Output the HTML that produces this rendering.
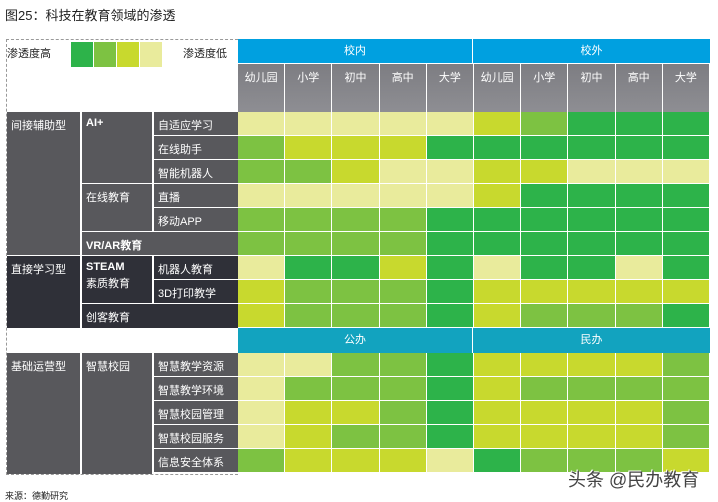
<!DOCTYPE html>
<html><head><meta charset="utf-8">
<style>
body{margin:0;width:718px;height:502px;background:#fff;position:relative;overflow:hidden;font-family:"Liberation Sans","Noto Sans CJK SC",sans-serif;}
.a{position:absolute;box-sizing:border-box;}
.lbl{color:#fff;font-size:11px;padding:5px 0 0 4px;}
.hd{color:#fff;font-size:11px;text-align:center;}
</style></head><body>
<div class="a" style="left:5px;top:5px;font-size:13px;color:#222;">图25：科技在教育领域的渗透</div>
<div class="a" style="left:6px;top:39px;width:232px;height:436px;border:1px dashed #999;border-right:none;"></div>
<div class="a" style="left:7px;top:45px;font-size:11px;color:#222;">渗透度高</div>
<div class="a" style="left:183px;top:45px;font-size:11px;color:#222;">渗透度低</div>
<div class="a" style="left:71px;top:42px;width:22px;height:25px;background:#2db34a"></div>
<div class="a" style="left:94px;top:42px;width:22px;height:25px;background:#7dc242"></div>
<div class="a" style="left:117px;top:42px;width:22px;height:25px;background:#c8d92e"></div>
<div class="a" style="left:140px;top:42px;width:22px;height:25px;background:#e9eb9c"></div>

<div class="a hd" style="left:238px;top:39px;width:235px;height:24px;background:#00a0e0;line-height:24px;border-right:1px solid #fff;">校内</div>
<div class="a hd" style="left:473px;top:39px;width:237px;height:24px;background:#00a0e0;line-height:24px;">校外</div>
<div class="a hd" style="left:238px;top:328px;width:235px;height:25px;background:#12a3bf;line-height:25px;border-right:1px solid #fff;">公办</div>
<div class="a hd" style="left:473px;top:328px;width:237px;height:25px;background:#12a3bf;line-height:25px;">民办</div>

<!-- left category blocks -->
<div class="a lbl" style="left:7px;top:112px;width:73px;height:144px;background:#58585c;border-bottom:1px solid #fff;">间接辅助型</div>
<div class="a lbl" style="left:81px;top:112px;width:71px;height:72px;background:#58585c;border-bottom:1px solid #fff;font-weight:bold;border-left:1px solid #fff;">AI+</div>
<div class="a lbl" style="left:81px;top:184px;width:71px;height:48px;background:#58585c;border-bottom:1px solid #fff;border-left:1px solid #fff;">在线教育</div>
<div class="a lbl" style="left:81px;top:232px;width:157px;height:24px;background:#58585c;border-bottom:1px solid #fff;font-weight:bold;border-left:1px solid #fff;">VR/AR教育</div>
<div class="a lbl" style="left:7px;top:256px;width:73px;height:72px;background:#2f3038;">直接学习型</div>
<div class="a lbl" style="left:81px;top:256px;width:71px;height:48px;background:#2f3038;border-bottom:1px solid #fff;border-left:1px solid #fff;line-height:17px;padding-top:3px;"><b>STEAM</b><br>素质教育</div>
<div class="a lbl" style="left:81px;top:304px;width:157px;height:24px;background:#2f3038;border-left:1px solid #fff;">创客教育</div>
<div class="a lbl" style="left:7px;top:353px;width:73px;height:121px;background:#58585c;">基础运营型</div>
<div class="a lbl" style="left:81px;top:353px;width:71px;height:121px;background:#58585c;border-left:1px solid #fff;">智慧校园</div>

<div id="grid"></div>
<div class="a" style="left:5px;top:489px;font-size:9px;color:#222;">来源：德勤研究</div>
<div class="a" style="left:568px;top:466px;font-size:18px;color:#444;text-shadow:1px 1px 0 #fff,-1px -1px 0 #fff;">头条 @民办教育</div>

<script>
const levels=["", "#e9eb9c","#c8d92e","#7dc242","#2db34a"];
const colLabels=["幼儿园","小学","初中","高中","大学","幼儿园","小学","初中","高中","大学"];
const topRowLabels=["自适应学习","在线助手","智能机器人","直播","移动APP","","机器人教育","3D打印教学",""];
const topValues=[
[1,1,1,1,1,2,3,4,4,4],
[3,2,2,2,4,4,4,4,4,4],
[3,3,2,1,1,2,2,1,1,1],
[1,1,1,1,1,2,4,4,4,4],
[3,3,3,3,4,4,4,4,4,4],
[3,3,3,3,4,4,4,4,4,4],
[1,4,4,2,4,1,4,4,1,4],
[2,3,3,3,4,2,2,2,2,2],
[2,3,3,3,4,2,3,3,3,4]];
const bottomRowLabels=["智慧教学资源","智慧教学环境","智慧校园管理","智慧校园服务","信息安全体系"];
const bottomValues=[
[1,1,3,3,4,2,2,2,2,3],
[1,3,3,3,4,2,3,3,3,3],
[1,2,2,3,4,2,2,2,2,3],
[1,2,3,3,4,2,2,2,2,3],
[3,2,2,2,1,4,3,3,3,2]];
const g=document.getElementById('grid');
const x0=238,cw=47.2,rh=24;
function colX(i){return x0+i*cw;}
function add(style,cls,text){const d=document.createElement('div');d.className='a '+(cls||'');d.style.cssText=style;if(text)d.textContent=text;g.appendChild(d);return d;}
colLabels.forEach((c,i)=>{
 const d=add(`left:${colX(i)}px;top:63px;width:${cw}px;height:49px;background:linear-gradient(#7d7d82,#8e8e93);border-right:1px solid #fff;border-top:1px solid #fff;padding-top:5px;`,'hd',c);
 
 
});
function drawRows(vals,labels,y0,dark){
 vals.forEach((row,r)=>{
  const y=y0+r*rh;
  if(labels[r]){
   const bg=(dark&&r>=6&&r<=7)?'#2f3038':'#58585c';
   const l=add(`left:153px;top:${y}px;width:85px;height:${rh}px;background:${bg};border-left:1px solid #fff;border-bottom:1px solid #fff;`,'lbl',labels[r]);
   
   
  }
  row.forEach((v,c)=>{
   const d=add(`left:${colX(c)}px;top:${y}px;width:${cw}px;height:${rh}px;background:${levels[v]};border-right:1.5px solid #fff;border-bottom:1.5px solid #fff;`);
   
   
  });
 });
}
drawRows(topValues,topRowLabels,112,true);
drawRows(bottomValues,bottomRowLabels,353,false);
</script>
</body></html>
